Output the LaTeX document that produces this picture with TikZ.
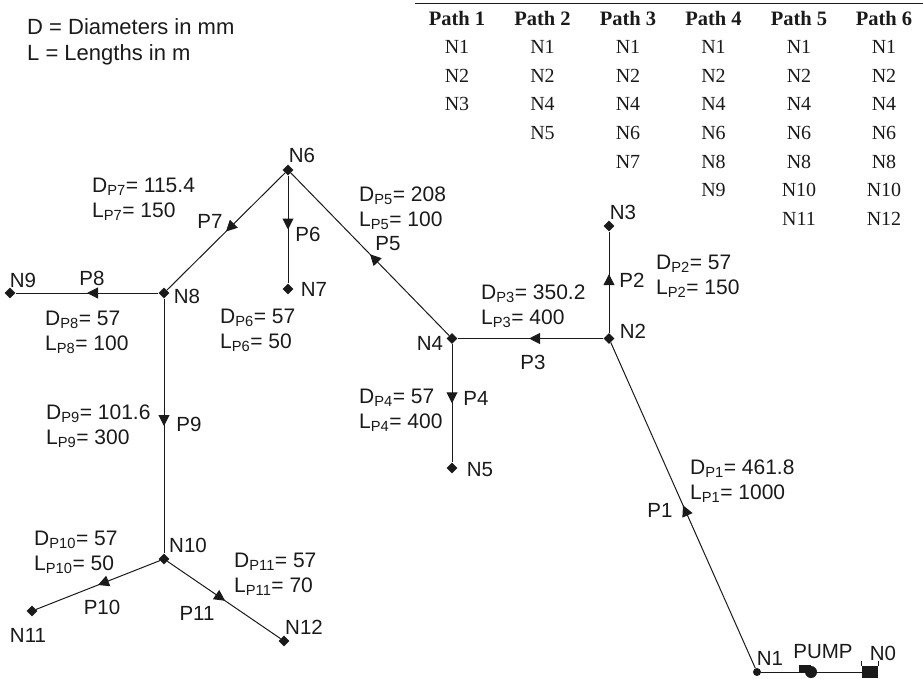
\documentclass[tikz,border=0pt]{standalone}
\usepackage{xcolor}
\usepackage{fontspec}
\setmainfont{Liberation Serif}
\setsansfont{Liberation Sans}
\usetikzlibrary{decorations.markings,arrows.meta,shapes.geometric}
\definecolor{PipeInk}{HTML}{1A1A1A}
\tikzset{
  junction/.style={diamond,fill=PipeInk,inner sep=0pt,minimum size=11pt},
  endnode/.style={circle,fill=PipeInk,inner sep=0pt,minimum size=8pt},
  pipe/.style={line width=1pt,draw=PipeInk,postaction={decorate},
    decoration={markings,mark=at position #1 with {\arrow{Triangle[length=11pt,width=11pt]}}}},
  feed/.style={line width=1pt,draw=PipeInk},
  lbl/.style={font=\fontsize{20.5}{24}\selectfont\sffamily,text=PipeInk,inner sep=0pt},
  spec/.style={font=\fontsize{21}{25}\selectfont\sffamily,text=PipeInk,inner sep=0pt,
    align=left,anchor=west,yshift=-2pt},
  cell/.style={font=\fontsize{20}{24}\selectfont,text=PipeInk,inner sep=0pt},
  headcell/.style={cell,font=\fontsize{20.5}{24}\selectfont\bfseries},
}
\newcommand{\specs}[3]{D\textsubscript{#1}= #2\\L\textsubscript{#1}= #3}
\begin{document}
\begin{tikzpicture}[x=1pt,y=-1pt]
  \useasboundingbox (0,0) rectangle (923,679);
  % legend
  \node[spec,font=\fontsize{22}{26}\selectfont\sffamily] (legend) at (27,40) {D = Diameters in mm\\L = Lengths in m};
  % path table
  \draw[line width=1.5pt,draw=PipeInk] (415,3.5) -- (923,3.5);
  \foreach \col/\x in {1/457,2/542.5,3/628,4/713.5,5/799,6/884}
    \node[headcell] (head\col) at (\x,18) {Path \col};
  \foreach \x/\list in {457/{N1,N2,N3},542.5/{N1,N2,N4,N5},628/{N1,N2,N4,N6,N7},
      713.5/{N1,N2,N4,N6,N8,N9},799/{N1,N2,N4,N6,N8,N10,N11},884/{N1,N2,N4,N6,N8,N10,N12}}
    \foreach \name [count=\i] in \list
      \node[cell] (c\x-\i) at (\x,18+28.7*\i) {\name};
  % network nodes
  \node[endnode] (n1) at (757,672) {};
  \node[junction] (n2) at (609,338.5) {};
  \node[junction] (n3) at (609,226) {};
  \node[junction] (n4) at (452,338.5) {};
  \node[junction] (n5) at (452,468) {};
  \node[junction] (n6) at (288,170) {};
  \node[junction] (n7) at (288,289) {};
  \node[junction] (n8) at (164,293) {};
  \node[junction] (n9) at (10,293) {};
  \node[junction] (n10) at (164,559) {};
  \node[junction] (n11) at (32,611) {};
  \node[junction] (n12) at (284,641) {};
  % pump and tank
  \node[circle,fill=PipeInk,inner sep=0pt,minimum size=12pt] (pump) at (811,672) {};
  \node[rectangle,fill=PipeInk,inner sep=0pt,minimum width=12pt,minimum height=8pt] (pumpbody) at (805,669) {};
  \node[rectangle,fill=PipeInk,inner sep=0pt,minimum width=16pt,minimum height=12pt] (tank) at (870,672) {};
  \draw[feed] (n1) -- (pump);
  \draw[feed] (pump) -- (tank);
  \draw[feed] (tank.north west) -- ++(0,-5);
  \draw[feed] (tank.north east) -- ++(0,-5);
  % pipes
  \draw[pipe=0.50] (n1) -- (n2);
  \draw[pipe=0.58] (n2) -- (n3);
  \draw[pipe=0.51] (n2) -- (n4);
  \draw[pipe=0.50] (n4) -- (n5);
  \draw[pipe=0.50] (n4) -- (n6);
  \draw[pipe=0.50] (n6) -- (n7);
  \draw[pipe=0.50] (n6) -- (n8);
  \draw[pipe=0.50] (n8) -- (n9);
  \draw[pipe=0.50] (n8) -- (n10);
  \draw[pipe=0.50] (n10) -- (n11);
  \draw[pipe=0.51] (n10) -- (n12);
  % node labels
  \node[lbl] at (883,653) {N0};
  \node[lbl] at (770,658) {N1};
  \node[lbl] at (633,331) {N2};
  \node[lbl] at (623,212) {N3};
  \node[lbl] at (430,343) {N4};
  \node[lbl] at (480,470) {N5};
  \node[lbl] at (302,155) {N6};
  \node[lbl] at (314,289) {N7};
  \node[lbl] at (187,296) {N8};
  \node[lbl] at (23,280) {N9};
  \node[lbl] at (188,545) {N10};
  \node[lbl] at (28,635) {N11};
  \node[lbl] at (304,627) {N12};
  \node[lbl] at (823,652) {PUMP};
  % pipe labels
  \node[lbl] at (660,510) {P1};
  \node[lbl] at (632,280) {P2};
  \node[lbl] at (533,362) {P3};
  \node[lbl] at (476,398) {P4};
  \node[lbl] at (388,244) {P5};
  \node[lbl] at (308,234) {P6};
  \node[lbl] at (210,221) {P7};
  \node[lbl] at (92,278) {P8};
  \node[lbl] at (189,424) {P9};
  \node[lbl] at (102,607) {P10};
  \node[lbl] at (197,613) {P11};
  % pipe data
  \node[spec] at (690,479) {\specs{P1}{461.8}{1000}};
  \node[spec] at (656,274) {\specs{P2}{57}{150}};
  \node[spec] at (481,304) {\specs{P3}{350.2}{400}};
  \node[spec] at (359,408) {\specs{P4}{57}{400}};
  \node[spec] at (359,206) {\specs{P5}{208}{100}};
  \node[spec] at (220,328) {\specs{P6}{57}{50}};
  \node[spec] at (92,197) {\specs{P7}{115.4}{150}};
  \node[spec] at (45,330) {\specs{P8}{57}{100}};
  \node[spec] at (46,424) {\specs{P9}{101.6}{300}};
  \node[spec] at (34,550) {\specs{P10}{57}{50}};
  \node[spec] at (234,572) {\specs{P11}{57}{70}};
\end{tikzpicture}
\end{document}
